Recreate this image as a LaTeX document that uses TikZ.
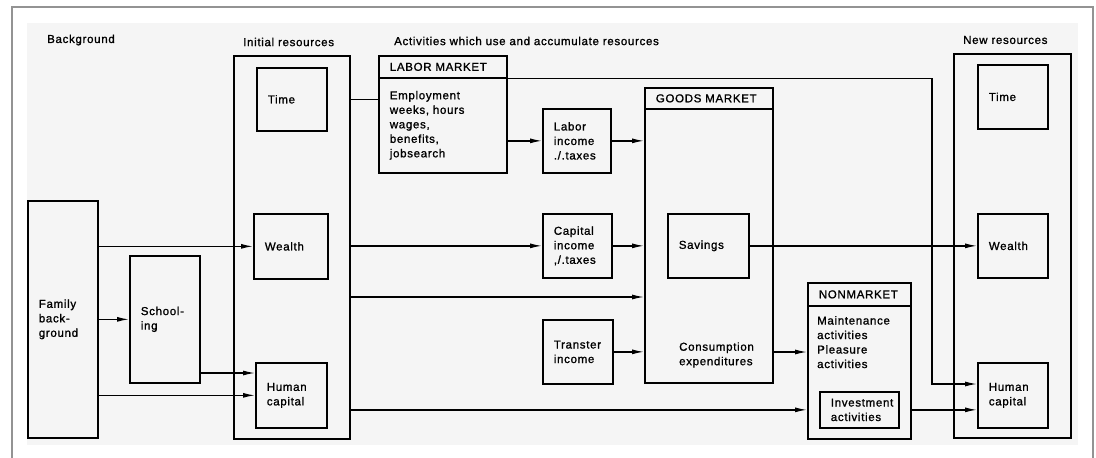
\documentclass[tikz,border=0pt]{standalone}
\usepackage{fontspec}
\setmainfont{Liberation Sans}[LetterSpace=6, FakeBold=1.2]
\usetikzlibrary{arrows.meta, calc}

\tikzset{
  box/.style={draw, line width=1.7pt, anchor=north west, inner xsep=11pt, inner ysep=0pt, align=left},
  frame/.style={draw, line width=1.8pt, anchor=north west, inner sep=0pt},
  flow/.style={line width=1.3pt, -{Latex[length=12pt,width=5pt]}},
  link/.style={line width=1.3pt},
  lbl/.style={anchor=west, inner sep=0pt},
}

\begin{document}
\begin{tikzpicture}[x=1pt, y=-1pt, font=\fontsize{11.5}{14.5}\selectfont]
    \useasboundingbox (0,0) rectangle (1096,458);
    % Page
    \fill[black!4] (27,23) rectangle (1078,445);
    \draw[gray!85, line width=2pt] (12,458) -- (12,6.5) -- (1093,6.5) -- (1093,458);

    % Headings
    \node[lbl] (hbg) at (47,40) {Background};
    \node[lbl] (hinit) at (243,42) {Initial resources};
    \node[lbl] (hact) at (394,41) {Activities which use and accumulate resources};
    \node[lbl] (hnew) at (963,40) {New resources};

    % Background
    \node[box, text width=48pt, minimum height=237pt] (fam) at (27,200) {Family\\back-\\ground};
    \node[box, text width=48pt, minimum height=127pt] (school) at (129,255) {School-\\ing};

    % Initial resources
    \node[frame, minimum width=116pt, minimum height=383pt] (init) at (233,55) {};
    \node[box, text width=48pt, minimum height=63pt] (tI) at (256,67) {Time};
    \node[box, text width=52pt, minimum height=65pt] (wI) at (253,213) {Wealth};
    \node[box, text width=49pt, minimum height=65pt] (hI) at (255,362) {Human\\capital};

    % Labor market
    \node[box, text width=106pt, minimum height=22pt] (labtitle) at (378,55) {LABOR MARKET};
    \node[box, text width=106pt, minimum height=95pt] (labor) at (378,77) {Employment\\weeks, hours\\wages,\\benefits,\\jobsearch};
    \node[box, text width=46pt, minimum height=64pt] (labinc) at (542,108) {Labor\\income\\./.taxes};
    \node[box, text width=47pt, minimum height=64pt] (capinc) at (542,213) {Capital\\income\\,/.taxes};
    \node[box, text width=48pt, minimum height=64pt] (trans) at (542,319) {Transter\\income};

    % Goods market
    \node[box, text width=106pt, minimum height=21pt] (goodstitle) at (644,87) {GOODS MARKET};
    \node[frame, minimum width=128pt, minimum height=274pt] (goods) at (644,108) {};
    \node[box, text width=59pt, minimum height=64pt] (sav) at (667,213) {Savings};
    \node[lbl, align=left] (cons) at (679,355) {Consumption\\expenditures};

    % Nonmarket
    \node[box, text width=81pt, minimum height=23pt] (nmtitle) at (807,282) {NONMARKET};
    \node[frame, minimum width=103pt, minimum height=133pt] (nm) at (807,305) {};
    \node[lbl, anchor=north west, align=left] (nmtxt) at (817,316) {Maintenance\\activities\\Pleasure\\activities};
    \node[box, text width=57pt, minimum height=36pt] (invest) at (819,391) {Investment\\activities};

    % New resources
    \node[frame, minimum width=117pt, minimum height=384pt] (new) at (953,53) {};
    \node[box, text width=48pt, minimum height=64pt] (tN) at (977,64) {Time};
    \node[box, text width=48pt, minimum height=64pt] (wN) at (977,213) {Wealth};
    \node[box, text width=48pt, minimum height=65pt] (hN) at (977,362) {Human\\capital};

    % Flows
    \draw[flow] (fam.east |- wI.west) -- (wI.west);
    \draw[flow] (fam.east |- school.west) -- (school.west);
    \draw[flow] (school.east |- 0,373) -- (hI.west |- 0,373);
    \draw[flow] (fam.east |- hI.west) -- (hI.west);
    \draw[link] (init.east |- tI.east) -- (labor.west |- tI.east);
    \draw[flow] (labor.east |- labinc.west) -- (labinc.west);
    \draw[flow] (labinc.east) -- (goods.west |- labinc.east);
    \draw[flow] (init.east |- capinc.west) -- (capinc.west);
    \draw[flow] (capinc.east) -- (goods.west |- capinc.east);
    \draw[flow] (init.east |- 0,297) -- (goods.west |- 0,297);
    \draw[flow] (trans.east) -- (goods.west |- trans.east);
    \draw[flow] (sav.east) -- (wN.west);
    \draw[flow] (goods.east |- 0,352) -- (nm.west |- 0,352);
    \draw[flow] (init.east |- invest.west) -- (nm.west |- invest.west);
    \draw[flow] (nm.east |- invest.east) -- (hN.west |- invest.east);
    \draw[flow] (labtitle.south east) -| (932,384) -- (hN.west |- 0,384);
\end{tikzpicture}
\end{document}
